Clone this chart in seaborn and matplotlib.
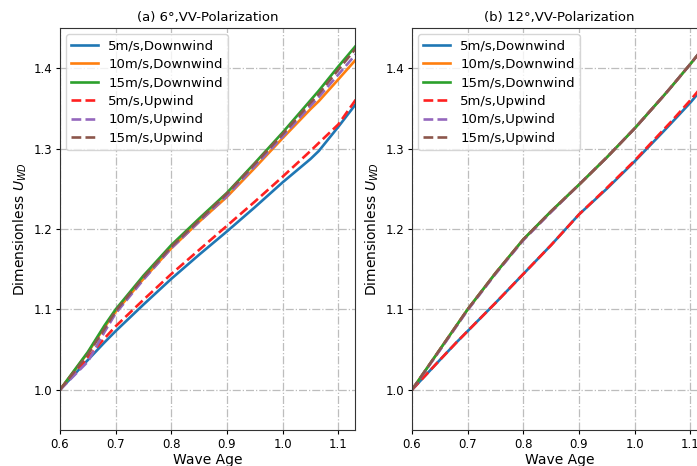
import matplotlib
matplotlib.use('Agg')
import matplotlib.pyplot as plt
import seaborn as sns

wave_age = [0.6, 0.65, 0.68, 0.7, 0.75, 0.8, 0.85, 0.9, 0.95, 1.0, 1.05, 1.065, 1.1, 1.15]

# (a) 6 degrees
a_down_5 = [1.0, 1.037, 1.059, 1.073, 1.106, 1.138, 1.168, 1.197, 1.227, 1.258, 1.287, 1.297, 1.327, 1.372]
a_down_10 = [1.0, 1.046, 1.078, 1.097, 1.138, 1.176, 1.209, 1.240, 1.276, 1.313, 1.349, 1.359, 1.386, 1.425]
a_down_15 = [1.0, 1.047, 1.080, 1.100, 1.142, 1.180, 1.213, 1.245, 1.282, 1.320, 1.360, 1.372, 1.402, 1.443]
a_up_5 = [1.0, 1.040, 1.064, 1.079, 1.112, 1.144, 1.174, 1.204, 1.234, 1.265, 1.297, 1.307, 1.330, 1.379]
a_up_10 = [1.0, 1.035, 1.072, 1.095, 1.137, 1.176, 1.209, 1.241, 1.278, 1.315, 1.353, 1.364, 1.392, 1.432]
a_up_15 = [1.0, 1.044, 1.076, 1.098, 1.140, 1.178, 1.211, 1.244, 1.281, 1.318, 1.357, 1.368, 1.398, 1.440]

# (b) 12 degrees
b_down_5 = [1.0, 1.037, 1.059, 1.073, 1.108, 1.144, 1.180, 1.218, 1.250, 1.284, 1.320, 1.331, 1.357, 1.398]
b_down_10 = [1.0, 1.050, 1.080, 1.100, 1.145, 1.187, 1.222, 1.255, 1.289, 1.325, 1.364, 1.376, 1.405, 1.448]
b_down_15 = [1.0, 1.050, 1.080, 1.100, 1.145, 1.187, 1.222, 1.255, 1.289, 1.325, 1.364, 1.376, 1.405, 1.448]
b_up_5 = [1.0, 1.037, 1.059, 1.073, 1.108, 1.144, 1.180, 1.218, 1.251, 1.285, 1.322, 1.333, 1.360, 1.401]
b_up_10 = [1.0, 1.049, 1.079, 1.099, 1.144, 1.186, 1.221, 1.255, 1.289, 1.325, 1.364, 1.376, 1.405, 1.448]
b_up_15 = [1.0, 1.050, 1.080, 1.100, 1.145, 1.187, 1.222, 1.255, 1.289, 1.325, 1.364, 1.376, 1.405, 1.448]

labels = ['5m/s,Downwind', '10m/s,Downwind', '15m/s,Downwind',
          '5m/s,Upwind', '10m/s,Upwind', '15m/s,Upwind']
colors = ['#1f77b4', '#ff7f0e', '#2ca02c', '#ff2020', '#9467bd', '#8c564b']
styles = ['-', '-', '-', '--', '--', '--']

panels = [
    ('(a) 6°,VV-Polarization', [a_down_5, a_down_10, a_down_15, a_up_5, a_up_10, a_up_15]),
    ('(b) 12°,VV-Polarization', [b_down_5, b_down_10, b_down_15, b_up_5, b_up_10, b_up_15]),
]

fig = plt.figure(figsize=(6.97, 4.66), dpi=100)
# right panel runs past the figure edge, as in the (cropped) original
positions = [[0.0861, 0.0773, 0.4232, 0.8627], [0.5911, 0.0773, 0.4232, 0.8627]]

for pos, (title, series) in zip(positions, panels):
    ax = fig.add_axes(pos)
    for vals, lab, col, ls in zip(series, labels, colors, styles):
        sns.lineplot(x=wave_age, y=vals, ax=ax, color=col, linestyle=ls,
                     linewidth=1.9, label=lab)
    ax.set_xlim(0.6, 1.13)
    ax.set_ylim(0.95, 1.45)
    ax.set_xticks([0.6, 0.7, 0.8, 0.9, 1.0, 1.1])
    ax.set_yticks([1.0, 1.1, 1.2, 1.3, 1.4])
    ax.grid(True, linestyle='-.', color='#bdbdbd', linewidth=0.9)
    ax.set_title(title, fontsize=9.5, pad=5)
    ax.set_xlabel('Wave Age', fontsize=10, labelpad=2)
    ax.set_ylabel('Dimensionless $U_{WD}$', fontsize=10, labelpad=3)
    ax.tick_params(labelsize=8.5, length=3, pad=2.5)
    for s in ax.spines.values():
        s.set_color('#333333')
    ax.legend(loc='upper left', fontsize=9.5, labelspacing=0.42,
              borderaxespad=0.45)

fig.savefig('out.png', dpi=100)
